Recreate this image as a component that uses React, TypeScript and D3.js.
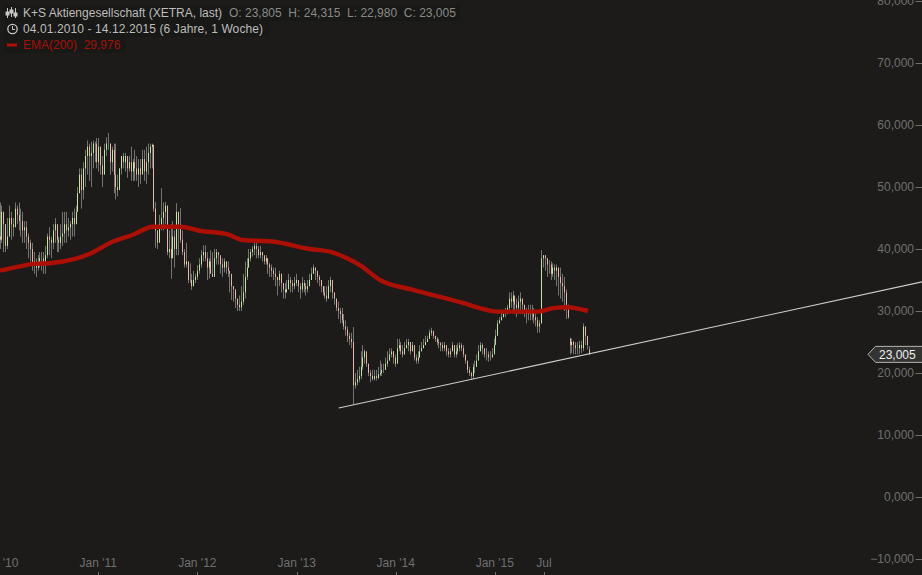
import React from "react";
import * as d3 from "d3";

const W = 922, H = 575;
const closes = [
41.5,46,44,40.5,42,45,44,43.5,46.5,45.5,
44.5,44.5,43,43.5,42,41,40,37.5,38,37,
37.5,38.5,38.5,38,39,42,41.5,41,43,44,
41.5,41,42,42.5,44,43,43.5,44,45,44,
46,49,52,49.5,53,55,56.5,55,55.5,57,
57,54,56.5,53.5,52,56,57,57,54,56,
52,50,49.5,53,55,54,55,53,54,52.5,
54,53,52,53,52,54.5,52.5,54,55.5,56.5,
56.8,46.5,43,41,44,45,46,47,39.5,40,
38.5,42,40,46,44,41.5,39.5,37.5,38,35,
35,34,35,35.5,36.5,37.5,39,39.5,38.5,37,
38,36,35.5,38.5,39.5,39,37.5,37,38,37,
36.5,36,34,33.5,32,31,30.6,31.5,33,35.5,
37,38.5,39.5,40,40.5,40,39,39.5,39,38,
38.5,37.5,37,36.5,36,35.5,35,36,34.5,33.5,
33,33.5,35,34.5,34,34.5,35,34,33.5,34.5,
34,33.5,34,35,36,37,36.5,35.5,35,34,
33,32.5,32,34,35,33,32,30.5,30,29.5,
28.5,27.5,27,26,25.5,25,18,18.5,19,19.5,
21,22.5,23.5,21.5,20,19.5,19,19.5,19.2,19.8,
20,20.5,20.5,21.5,22,23,23.5,22.5,21.5,24,
24.5,23.5,23,24,24.5,25,23.5,24.5,22.5,22,
22.5,23.5,24,24.5,25,25.5,26.5,26.8,26,25.5,
25,24.8,24.5,24,24.5,23.5,23,23.5,24.5,23,
23.5,24,24.5,24,23,22,20.5,20,19.5,21,
21,22,23.5,24.5,24,23,23,22.5,22.5,23,
24.5,26,28,28.5,29,29.5,29.5,30.5,32,31.5,
32.5,31,30.5,31.5,32,31,30,29.5,30,29.5,
30,29,28.5,27.5,28,38.5,39,38.5,37.5,37.5,
36,37,36.5,37,35.5,34.5,34,33,31,29,
24.5,25,24.5,24,24,24.5,24,27.5,26,24.5,
23.005];
const highs = [
47.5,47,46,44,45,47,46,45,47.5,47,
47.5,46.5,46,44.5,44.5,42.5,41.5,41,39.5,38.5,
39,39.5,39.5,39.5,40.5,42.5,43.5,42,44,45,
43.5,42,44,46,46,46,45,44.5,46,46.5,
47,50,53,53,54,56,57.5,57,57.3,57.5,
57.3,57.9,57.9,56.5,55,57,58,58.7,57,56.5,
57,57,52,53,55,55.5,55.5,54.5,55,56.5,
54.5,56,55,54.5,54.5,56,56,56.5,57,57,
57,56.8,47.6,43,45.5,49.8,47.5,47.6,47,43,
44,44.5,43,47.4,46,46.6,43,40,41,38,
37.7,36,36.5,36,37.4,38.5,39.8,40.6,40.6,39.5,
38.5,39.8,39.5,40,40,39,38.5,38.5,38.5,38,
38,36,35,34,33,32,32.5,34,36,38,
38.5,40,40,40.5,41.2,41,40.5,40.5,39.5,38.8,
39,38.5,37.8,37.5,37,37,35.5,36.5,36,34.5,
34.5,35,36,35.5,35,35.5,36,35,34.5,35.5,
35,34.5,35,36,37,37.5,37,36,35.8,35,
34,34,34,35,35.5,34,33,32,31.5,30.5,
30.5,29.5,28.5,27.5,26.5,26.5,27.4,20,20.5,21,
23.5,24.5,23.8,23,21.5,20.5,20.5,20.5,20.5,21,
22,21.5,21.5,22.5,23.5,24,24,23.5,23,25.5,
25.5,25,24.5,25,25.5,25.5,25,25,23.5,23,
23.5,24.5,25,25.5,26,26,27,27.3,26.5,26,
25.8,25.5,25,25,25,24,24,24,25,24,
24.5,24.8,25,24.8,24.5,23,21.5,21,20.2,21.5,
22,23,24.5,25,24.8,24,24,23.5,23.5,24,
25.5,27,28.5,29,29.8,30,30.5,31,33,33,
33.2,32,32,32.5,33,32,31,30.5,31,31,
31,30.5,30,29,28.5,39.8,39,38.7,38.5,38.2,
38,37.7,37.5,37.5,37,37,36,35.5,33.5,30,
25.7,25.6,25.2,25,25,25.2,25.2,28,27.5,25.5,
24.315];
const lows = [
40,41,39.5,39.5,40,43,41.5,42,44,44,
43,42,41,41,40,38.5,38,36.5,36,35.5,
36.5,37,36.5,36,36,38.5,39,38.5,40,41,
39.5,39.5,40,40.5,41,41,42,41.5,42,42,
44,46,49,46.5,48,50,52,51,50,53,
54,53,52.5,52,50,52,55,56,52,52.5,
49,48,48.5,50,52,53,52.5,51.5,52.5,51,
51,51,51,50,50.5,52.5,51,50.5,52,53,
53,46,40.2,40,41.5,43,43,44,39,38.5,
35.2,39,37,39,39,41,39,37,37,34.5,
34.5,33.4,34,34.5,35,36,37,38,38,35,
35.2,36,35.5,37,37.5,37.5,36,35.5,36.2,36,
35.5,33,31.8,31.5,30.5,30,30,30,31,32,
35,37,38,38.8,39,38.5,38.5,38.5,38,37.5,
37.5,36,35.5,35.5,35,34,32.5,34,33,32,
32,33,33.5,33,33,33.5,34,33,32,33,
33,32.5,33,34,35,36,35,34.5,34,33,
32.5,32,31.5,32,33,32,31,30,28.7,28,
28,27,26,25,24.5,24,15,17.5,18,18.5,
19,20.5,21.5,21,19.5,18.5,18.8,18.8,18.8,19,
19.5,19.5,20,20.5,21,22,22.5,21.5,21,23,
23.5,23,22.5,23,24,23.5,23,23.5,22,21.5,
21.5,22.5,23.5,24,24.5,25,25.5,26,25.5,25,
24.5,24,23.5,23.5,23.5,22.8,22.5,22.5,23.5,22.5,
22.5,23,23.5,23.5,22.5,21.5,20,19.5,19,19,
20,21,22.5,23.5,23,22.5,22,21.8,22,22.5,
23.5,25.5,26.5,28,28.5,29,29,30,30,30.5,
30,29.5,29,29.5,29.5,29.5,29,28,28.5,28.5,
28.5,28,27.5,26.5,26.5,28,37,36.5,35.5,36,
35,35.5,35,34,32.5,32,31.5,30,28.7,28.7,
23,23.2,23,23,23,23,23.2,23.5,24.5,23.8,
22.98];
const openOverrides: [number, number][] = [[0, 42], [300, 25.5], [310, 23.805]];

const emaWeeks = [0,10.5,17.5,26,39.5,47,59.5,70,80.5,95,105,119.5,128,143.5,163,174,184,189.5,200,217.5,243.7,252,261.5,283,292,298.4,309.5];
const emaValues = [36.5,37.2,37.6,37.7,38.4,39.2,41.2,42.3,43.6,43.6,42.95,42.4,41.45,41.2,40,39.55,38.3,37.4,35,33.4,31.3,30.5,29.9,29.9,30.5,30.6,30];

const trendWeeks = [178.4, 485.3];
const trendValues = [14.35, 34.7];

const yTicks = [-10, 0, 10, 20, 30, 40, 50, 60, 70, 80];
const xTickDates = [new Date(2010, 0, 1), new Date(2011, 0, 1), new Date(2012, 0, 1), new Date(2013, 0, 1), new Date(2014, 0, 1), new Date(2015, 0, 1), new Date(2015, 6, 1)];
const xTickLabels = ["Jan '10", "Jan '11", "Jan '12", "Jan '13", "Jan '14", "Jan '15", "Jul"];
const legendTitle = "K+S Aktiengesellschaft (XETRA, last)";
const legendOHLC = "O: 23,805  H: 24,315  L: 22,980  C: 23,005";
const legendRange = "04.01.2010 - 14.12.2015 (6 Jahre, 1 Woche)";
const legendEma = "EMA(200)  29,976";
const lastPrice = 23.005;

const fmt = (v: number) => d3.format(".3f")(v).replace(".", ",");
const FONT = "'Liberation Sans', Arial, sans-serif";

export default function App() {
  const start = new Date(2010, 0, 4), end = new Date(2015, 11, 14);
  const x = d3.scaleTime().domain([start, end]).range([0, 589]);
  const xw = (w: number) => x(d3.timeDay.offset(start, w * 7));
  const y = d3.scaleLinear().domain([0, 80]).range([497, 1]);
  const opens = closes.map((_, i) => {
    const o = openOverrides.find((d) => d[0] === i);
    return o ? o[1] : closes[i - 1];
  });
  const line = d3.line<number>().x((_, i) => xw(emaWeeks[i])).y((d) => y(d)).curve(d3.curveMonotoneX);
  const ty = y(lastPrice);
  return (
    <svg width={W} height={H} style={{ position: "fixed", left: 0, top: 0, background: "#1c1b1a" }} fontFamily={FONT}>
      {closes.map((c, i) => {
        const px = Math.floor(xw(i)) + 0.5;
        const up = c >= opens[i];
        return (
          <g key={i}>
            <line x1={px} x2={px} y1={y(highs[i])} y2={y(lows[i])} stroke="#7e7e7b" strokeWidth={0.9} />
            <line x1={px} x2={px} y1={y(opens[i])} y2={y(c)} stroke={up ? "#c4f5a6" : "#f7bdb2"} strokeWidth={0.9} />
          </g>
        );
      })}
      <path d={line(emaValues) as string} fill="none" stroke="#ad0f04" strokeWidth={4.4} />
      <line x1={xw(trendWeeks[0])} x2={xw(trendWeeks[1])} y1={y(trendValues[0])} y2={y(trendValues[1])} stroke="#cfcfca" strokeWidth={1.1} />
      {yTicks.map((t) => (
        <g key={t}>
          <text x={914} y={y(t) + 4} textAnchor="end" fontSize={12} fill="#6f6f6c">{fmt(t)}</text>
          <line x1={915.5} x2={922} y1={y(t) + 0.5} y2={y(t) + 0.5} stroke="#6f6f6c" />
        </g>
      ))}
      {xTickDates.map((d, i) => (
        <g key={i}>
          <text x={x(d)} y={567} textAnchor="middle" fontSize={12} fill="#6f6f6c">{xTickLabels[i]}</text>
          <line x1={Math.round(x(d)) + 0.5} x2={Math.round(x(d)) + 0.5} y1={572} y2={575} stroke="#6f6f6c" />
        </g>
      ))}
      <path d={`M922,${ty - 8} H875.5 L868,${ty} L875.5,${ty + 8} H922`} fill="#333331" stroke="#b5b5b0" strokeWidth={1} />
      <text x={879} y={ty + 4.5} fontSize={12} fill="#f0f0f0">{fmt(lastPrice)}</text>

      <rect x={4} y={5} width={456} height={16} fill="#181817" />
      <rect x={4} y={21} width={265} height={16} fill="#181817" />
      <rect x={4} y={37} width={122} height={16} fill="#181817" />
      <g stroke="#c9c9c5" strokeWidth={1} fill="none">
        <path d="M7.5,8V18M11.5,7V17M15.5,8V18" />
        <rect x={6} y={12} width={3} height={3} fill="#c9c9c5" />
        <rect x={10} y={10} width={3} height={3} fill="#c9c9c5" />
        <rect x={14} y={13} width={3} height={3} fill="#c9c9c5" />
        <circle cx={12.5} cy={29} r={4.7} strokeWidth={1.3} />
        <path d="M12.5,26V29.5H15" />
      </g>
      <rect x={7} y={43.5} width={10} height={3} fill="#b30f04" />
      <text x={23} y={17} fontSize={12} fill="#bdbdb9">{legendTitle}</text>
      <text x={229} y={17} fontSize={12} fill="#8a8a86" xmlSpace="preserve">{legendOHLC}</text>
      <text x={23} y={33} fontSize={12} fill="#bdbdb9" letterSpacing={0.1}>{legendRange}</text>
      <text x={23} y={49} fontSize={12} fill="#a80f04" xmlSpace="preserve">{legendEma}</text>
    </svg>
  );
}
